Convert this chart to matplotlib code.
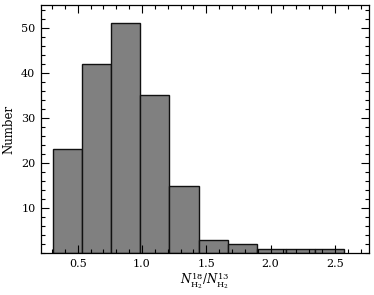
import numpy as np
import matplotlib
matplotlib.use("Agg")
import matplotlib.pyplot as plt
from matplotlib.ticker import MultipleLocator

plt.rcParams['font.family'] = 'DejaVu Serif'
plt.rcParams['mathtext.fontset'] = 'dejavuserif'

# histogram
bin_lo = 0.31
bin_hi = 2.57
counts = [23, 42, 51, 35, 15, 3, 2, 1, 1, 1]
edges = np.linspace(bin_lo, bin_hi, len(counts) + 1)
centers = (edges[:-1] + edges[1:]) / 2

fig = plt.figure(figsize=(3.74, 2.95), dpi=100)
ax = fig.add_axes([0.1096, 0.1414, 0.877, 0.8416])

ax.hist(centers, bins=edges, weights=counts, color='#808080',
        edgecolor='#111111', linewidth=1.0)

ax.set_xlim(0.215, 2.765)
ax.set_ylim(0, 55)
ax.set_yticks([10, 20, 30, 40, 50])
ax.xaxis.set_major_locator(MultipleLocator(0.5))
ax.xaxis.set_minor_locator(MultipleLocator(0.1))
ax.yaxis.set_minor_locator(MultipleLocator(2))
ax.tick_params(which='both', direction='in', top=True, right=True,
               labelsize=8, width=0.8)
ax.tick_params(which='major', length=6, pad=4)
ax.tick_params(which='minor', length=3)
for s in ax.spines.values():
    s.set_linewidth(0.9)

ax.set_ylabel('Number', fontsize=8.5, labelpad=4)
ax.set_xlabel(r'$N^{18}_{\rm H_2}/N^{13}_{\rm H_2}$', fontsize=8.5, labelpad=1)

fig.savefig('out.png', dpi=100)
